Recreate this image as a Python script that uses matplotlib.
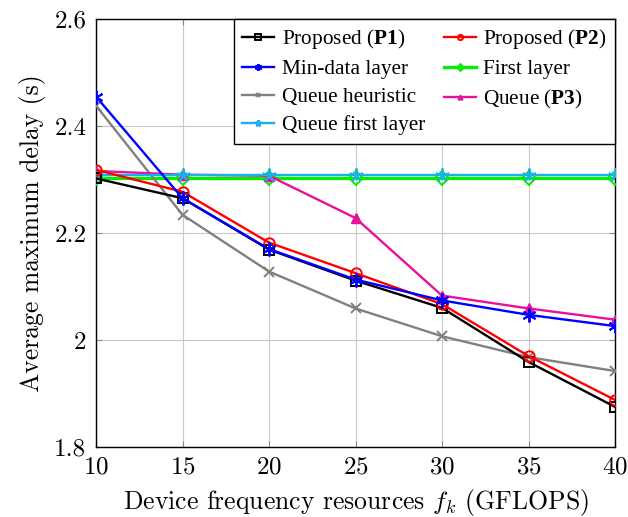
import matplotlib
matplotlib.use("Agg")
import matplotlib.pyplot as plt

plt.rcParams['font.family'] = ['cmr10']
plt.rcParams['mathtext.fontset'] = 'custom'
plt.rcParams['mathtext.rm'] = 'cmr10'
plt.rcParams['mathtext.it'] = 'cmmi10'
plt.rcParams['mathtext.bf'] = 'Liberation Serif:bold'
plt.rcParams['axes.formatter.use_mathtext'] = True

freq = [10, 15, 20, 25, 30, 35, 40]
proposed_p1 = [2.302, 2.265, 2.169, 2.111, 2.060, 1.959, 1.875]
proposed_p2 = [2.318, 2.277, 2.182, 2.125, 2.067, 1.970, 1.888]
min_data = [2.455, 2.265, 2.170, 2.113, 2.074, 2.047, 2.026]
first_layer = [2.303, 2.303, 2.303, 2.303, 2.303, 2.303, 2.303]
queue_heur = [2.438, 2.234, 2.128, 2.059, 2.007, 1.968, 1.942]
queue_p3 = [2.316, 2.309, 2.307, 2.228, 2.083, 2.059, 2.038]
queue_first = [2.308, 2.308, 2.308, 2.308, 2.308, 2.308, 2.308]

xticks = [10, 15, 20, 25, 30, 35, 40]
yticks = [1.8, 2.0, 2.2, 2.4, 2.6]
yticklabels = ['1.8', '2', '2.2', '2.4', '2.6']

fig = plt.figure(figsize=(6.28, 5.17), dpi=100)
ax = fig.add_axes([96/628, 1-447/517, (615-96)/628, (447-19)/517])

lw = 1.7
h = {}
h['p1'], = ax.plot(freq, proposed_p1, color='black', marker='s', mfc='none', mew=1.4, ms=7.5, lw=lw, label=r'Proposed ($\mathbf{P1}$)', zorder=5)
h['p2'], = ax.plot(freq, proposed_p2, color='red', marker='o', mfc='none', mew=1.4, ms=7.5, lw=lw, label=r'Proposed ($\mathbf{P2}$)', zorder=6)
h['md'], = ax.plot(freq, min_data, color='blue', marker=(6, 2, 0), mew=1.4, ms=10, lw=lw, label='Min-data layer', zorder=7)
h['fl'], = ax.plot(freq, first_layer, color='#00ee00', marker='D', mfc='none', mew=1.4, ms=7, lw=lw*1.4, label='First layer', zorder=3)
h['qh'], = ax.plot(freq, queue_heur, color='#808080', marker='x', mew=1.4, ms=7, lw=lw, label='Queue heuristic', zorder=4)
h['q3'], = ax.plot(freq, queue_p3, color='#e8119a', marker='^', mew=1.0, ms=7, lw=lw, label=r'Queue ($\mathbf{P3}$)', zorder=4)
h['qf'], = ax.plot(freq, queue_first, color='#1ab0ec', marker=(5, 2, 0), mew=1.4, ms=10, lw=lw, label='Queue first layer', zorder=4)

order = ['p1', 'md', 'qh', 'qf', 'p2', 'fl', 'q3']
leg = ax.legend([h[k] for k in order], [h[k].get_label() for k in order], ncol=2,
                loc='upper right', bbox_to_anchor=(1.0, 1.0), borderaxespad=0,
                prop={'family': 'Liberation Serif', 'size': 15.3},
                frameon=True, fancybox=False, edgecolor='black', framealpha=1,
                handlelength=1.5, handletextpad=0.35, columnspacing=0.9,
                labelspacing=0.38, borderpad=0.4, markerscale=0.5)
leg.get_frame().set_linewidth(1.0)

ax.set_xlim(10, 40)
ax.set_ylim(1.8, 2.6)
ax.set_xticks(xticks)
ax.set_yticks(yticks)
ax.set_yticklabels(yticklabels)
ax.grid(True, color='#c8c8c8', lw=0.8)
ax.set_axisbelow(True)
ax.tick_params(direction='in', top=True, right=True, labelsize=18, length=4, color='#888888', pad=7)
for s in ax.spines.values():
    s.set_linewidth(1.0)
ax.set_xlabel(r'Device frequency resources $f_k$ (GFLOPS)', fontsize=18.5, labelpad=6)
ax.set_ylabel('Average maximum delay (s)', fontsize=18.5, labelpad=6)

fig.savefig('out.png', dpi=100)
